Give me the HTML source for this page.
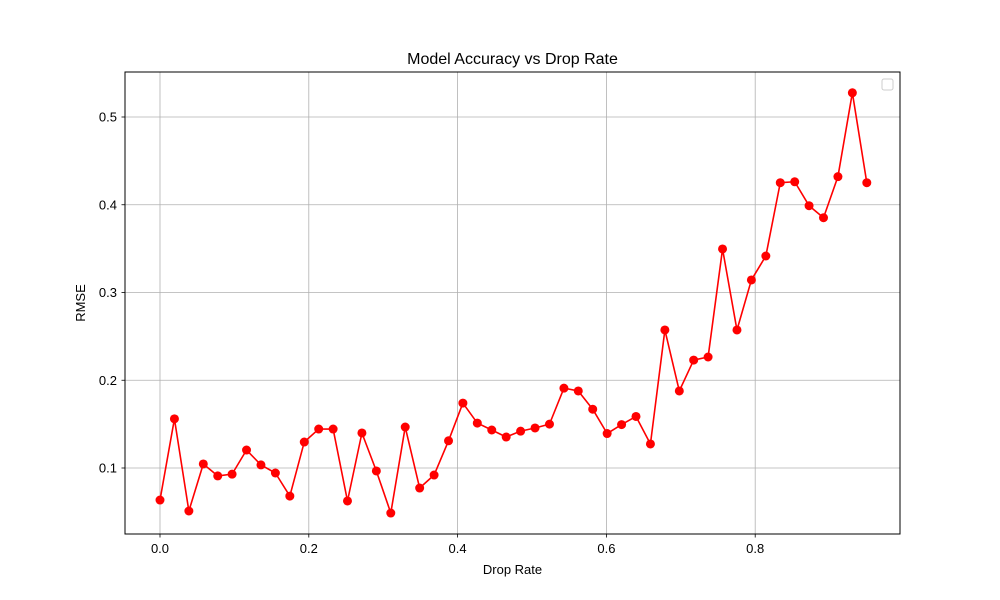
<!DOCTYPE html>
<html><head><meta charset="utf-8"><style>
html,body{margin:0;padding:0;background:#fff;}
svg{display:block;font-family:"Liberation Sans","DejaVu Sans",sans-serif;}
</style></head><body>
<svg id="chart" width="1000" height="600" viewBox="0 0 1000 600" xmlns="http://www.w3.org/2000/svg">
<rect x="0" y="0" width="1000" height="600" fill="#fff"/>
<g id="grid"></g>
<g id="series"></g>
<rect x="125" y="72" width="775" height="462" fill="none" stroke="#000" stroke-width="1"/>
<g id="ticks"></g>
<text x="512.5" y="64" text-anchor="middle" font-size="16">Model Accuracy vs Drop Rate</text>
<text x="512.5" y="574" text-anchor="middle" font-size="13">Drop Rate</text>
<text transform="translate(85,303) rotate(-90)" text-anchor="middle" font-size="13">RMSE</text>
<rect x="882" y="79" width="11" height="11" rx="2" fill="#fff" stroke="#ccc" stroke-width="1"/>
</svg>
<script>
const dropRates = [0.0,0.0194,0.0388,0.0582,0.0776,0.0969,0.1163,0.1357,0.1551,0.1745,0.1939,0.2133,0.2327,0.2520,0.2714,0.2908,0.3102,0.3296,0.3490,0.3684,0.3878,0.4071,0.4265,0.4459,0.4653,0.4847,0.5041,0.5235,0.5429,0.5622,0.5816,0.6010,0.6204,0.6398,0.6592,0.6786,0.6980,0.7173,0.7367,0.7561,0.7755,0.7949,0.8143,0.8337,0.8531,0.8724,0.8918,0.9112,0.9306,0.95];
const rmse = [0.0635,0.156,0.051,0.1046,0.091,0.093,0.1205,0.1035,0.0943,0.068,0.1296,0.1444,0.1444,0.0624,0.1399,0.0966,0.0487,0.1467,0.0772,0.092,0.131,0.174,0.1512,0.1433,0.1353,0.142,0.1456,0.150,0.191,0.1878,0.167,0.1393,0.1495,0.1587,0.1274,0.2573,0.1878,0.223,0.2265,0.3496,0.2573,0.3143,0.3416,0.4251,0.4262,0.3989,0.3852,0.432,0.5276,0.4251];
const xTicks = [0.0,0.2,0.4,0.6,0.8];
const xTickLabels = ["0.0","0.2","0.4","0.6","0.8"];
const yTicks = [0.1,0.2,0.3,0.4,0.5];
const yTickLabels = ["0.1","0.2","0.3","0.4","0.5"];

const NS="http://www.w3.org/2000/svg";
function xs(v){return 160+v*744;}
function ys(v){return 555.75-v*877.5;}
function mk(tag,attrs,parent){const e=document.createElementNS(NS,tag);for(const k in attrs)e.setAttribute(k,attrs[k]);parent.appendChild(e);return e;}
const grid=document.getElementById('grid'),ticks=document.getElementById('ticks'),series=document.getElementById('series');
xTicks.forEach((t,i)=>{
  const x=xs(t);
  const g=mk('line',{x1:x,x2:x,y1:72,y2:534,stroke:'#b0b0b0','stroke-width':0.8},grid);
  
  
  const tk=mk('line',{x1:x,x2:x,y1:534,y2:537.5,stroke:'#000','stroke-width':0.8},ticks);
  
  
  const tl=mk('text',{x:x,y:553,'text-anchor':'middle','font-size':13},ticks);
  tl.textContent=xTickLabels[i];
  
  
});
yTicks.forEach((t,i)=>{
  const y=ys(t);
  const g=mk('line',{x1:125,x2:900,y1:y,y2:y,stroke:'#b0b0b0','stroke-width':0.8},grid);
  
  
  const tk=mk('line',{x1:121.5,x2:125,y1:y,y2:y,stroke:'#000','stroke-width':0.8},ticks);
  
  
  const tl=mk('text',{x:117,y:y+4.5,'text-anchor':'end','font-size':13},ticks);
  tl.textContent=yTickLabels[i];
  
  
});
const pts=dropRates.map((d,i)=>xs(d).toFixed(2)+','+ys(rmse[i]).toFixed(2)).join(' ');
const line=mk('polyline',{points:pts,fill:'none',stroke:'#ff0000','stroke-width':1.6,'stroke-linejoin':'round'},series);


dropRates.forEach((d,i)=>{
  const c=mk('circle',{cx:xs(d),cy:ys(rmse[i]),r:4.5,fill:'#ff0000'},series);
  
  
});
</script>
</body></html>
